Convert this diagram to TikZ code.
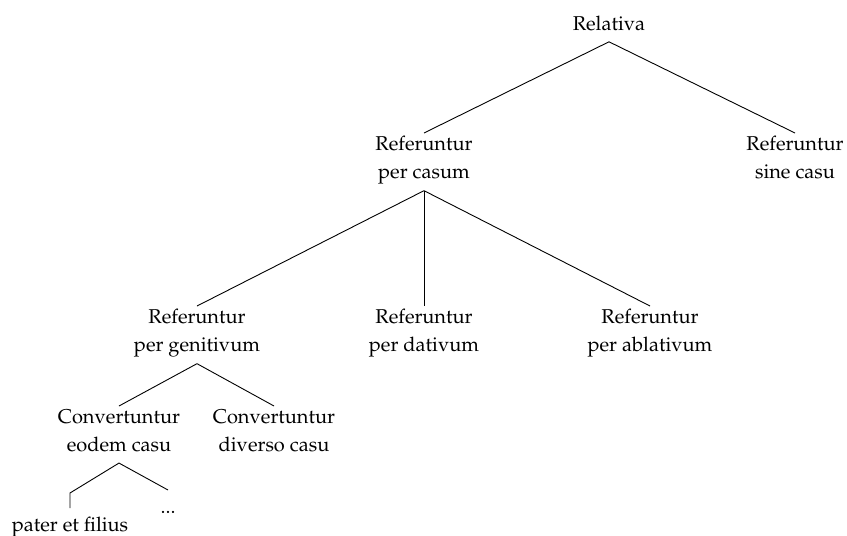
\documentclass[tikz,border=0pt]{standalone}
\usepackage[T1]{fontenc}
\usepackage{mathpazo}
\usepackage{tikz}
\usetikzlibrary{positioning}

\begin{document}
\begin{tikzpicture}[
  x=0.5pt, y=-0.5pt,
  font=\fontsize{10}{14}\selectfont,
  lbl/.style={align=center, inner xsep=2pt, inner ysep=1.5pt, anchor=north,
    execute at begin node=\strut, execute at end node=\strut},
  br/.style={line width=0.45pt}
]
  \useasboundingbox (0,0) rectangle (847,536);

  \node[lbl] (rel) at (609,7) {Relativa};
  \node[lbl] (casum) at (424,133) {Referuntur\\per casum};
  \node[lbl] (sine) at (795,133) {Referuntur\\sine casu};
  \node[lbl] (gen) at (197,306) {Referuntur\\per genitivum};
  \node[lbl] (dat) at (424,306) {Referuntur\\per dativum};
  \node[lbl] (abl) at (650,306) {Referuntur\\per ablativum};
  \node[lbl] (eodem) at (119,406) {Convertuntur\\eodem casu};
  \node[lbl] (diverso) at (274,406) {Convertuntur\\diverso casu};
  \node[lbl] (dots) at (168,490) {...};
  \node[lbl] (pater) at (70,508) {pater et filius};
  \coordinate (bend) at (70,493);

  \draw[br] (rel.south) -- (casum.north);
  \draw[br] (rel.south) -- (sine.north);
  \draw[br] (casum.south) -- (gen.north);
  \draw[br] (casum.south) -- (dat.north);
  \draw[br] (casum.south) -- (abl.north);
  \draw[br] (gen.south) -- (eodem.north);
  \draw[br] (gen.south) -- (diverso.north);
  \draw[br] (eodem.south) -- (bend) -- (pater.north);
  \draw[br] (eodem.south) -- (dots.north);
\end{tikzpicture}
\end{document}
